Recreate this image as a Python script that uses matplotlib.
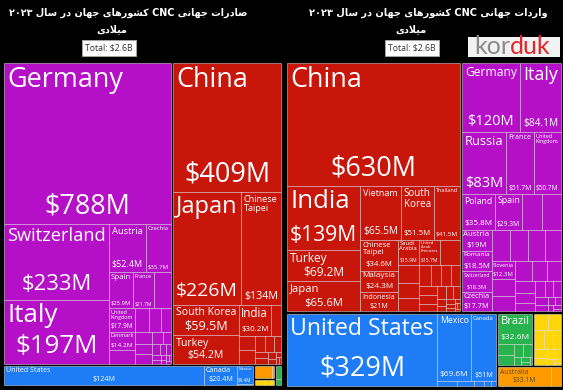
import matplotlib
matplotlib.use('Agg')
import matplotlib.pyplot as plt
from matplotlib.patches import Rectangle
from matplotlib.font_manager import FontProperties

# ---------------- data (values in $M) ----------------
# exports (left)
exp_europe_names = ['Germany', 'Switzerland', 'Italy', 'Austria', 'Czechia', 'Spain', 'France', '',
                    'United Kingdom', 'Denmark', '', '', '', '', '', '', '', '', '', '', '', '', '', '',
                    '', '', '', '', '']
exp_europe_values = [788, 233, 197, 52.4, 35.7, 25.9, 21.7, 18.5, 17.9, 14.2, 10.4, 9.5, 8.0, 7.0, 6.0,
                     5.0, 4.5, 4.0, 3.0, 2.5, 2.0, 1.5, 1.2, 1.0, 0.8, 0.6, 0.5, 0.4, 0.3]
exp_asia_names = ['China', 'Japan', 'Chinese Taipei', 'South Korea', 'Turkey', 'India', '', '', '', '',
                  '', '', '', '', '', '', '', '', '']
exp_asia_values = [409, 226, 134, 59.5, 54.2, 30.2, 8.8, 7.0, 6.5, 5.0, 4.0, 3.5, 2.5, 2.0, 1.5, 1.0,
                   0.8, 0.6, 0.4]
exp_namerica_names = ['United States', 'Canada', 'Mexico', '']
exp_namerica_values = [124, 20.4, 9.4, 0.4]
exp_oceania_names = ['', '']
exp_oceania_values = [7.5, 1.0]
exp_africa_names = ['', '', '']
exp_africa_values = [2.5, 1.2, 0.8]
exp_samerica_names = ['', '']
exp_samerica_values = [3.0, 1.3]

# imports (right)
imp_asia_names = ['China', 'India', 'Turkey', 'Japan', 'Vietnam', 'South Korea', 'Thailand',
                  'Chinese Taipei', 'Malaysia', 'Indonesia', 'Saudi Arabia', 'United Arab Emirates',
                  '', '', '', '', '', '', '', '', '', '', '', '', '', '', '', '', '', '', '', '', '', '', '']
imp_asia_values = [630, 139, 69.2, 65.6, 65.5, 51.5, 41.5, 34.6, 24.3, 21, 15.9, 15.7, 15.0, 11.1, 9.5,
                   8.5, 7.5, 6.5, 6.0, 5.5, 5.0, 4.5, 4.0, 3.5, 3.0, 2.5, 2.0, 1.5, 1.2, 1.0, 0.8, 0.6,
                   0.5, 0.4, 0.3]
imp_europe_names = ['Germany', 'Italy', 'Russia', 'France', 'United Kingdom', 'Poland', 'Spain', '', '',
                    'Austria', 'Romania', 'Switzerland', 'Czechia', '', '', '', '', 'Slovenia', '', '',
                    '', '', '', '', '', '', '', '', '', '', '', '', '', '', '', '']
imp_europe_values = [120, 84.1, 83, 51.7, 50.7, 35.8, 29.3, 21.5, 20, 19, 18.5, 18.3, 17.7, 17.5, 17,
                     16.5, 15, 12.3, 12, 11, 10, 9, 8, 7, 6, 5, 4.5, 4, 3.5, 3, 2.5, 2, 1.5, 1, 0.8, 0.6]
imp_namerica_names = ['United States', 'Mexico', 'Canada', '', '', '', '', '']
imp_namerica_values = [329, 69.6, 51, 3.0, 2.5, 1.5, 1.0, 0.8]
imp_samerica_names = ['Brazil', '', '', '', '', '', '', '', '']
imp_samerica_values = [32.6, 6, 5, 4, 3.5, 2, 1.5, 1, 0.5]
imp_africa_names = ['', '', '', '', '', '', '', '', '', '', '', '']
imp_africa_values = [8, 7, 6, 5.5, 5, 4, 3, 2.5, 2, 1.5, 1, 0.5]
imp_oceania_names = ['Australia', '']
imp_oceania_values = [33.1, 6]

colors = {'Europe': '#b510c8', 'Asia': '#c8160b', 'North America': '#1d7cf6',
          'South America': '#27b34d', 'Africa': '#ffd60a', 'Oceania': '#ff9a00'}

exports = {'Europe': (exp_europe_names, exp_europe_values),
           'Asia': (exp_asia_names, exp_asia_values),
           'North America': (exp_namerica_names, exp_namerica_values),
           'Oceania': (exp_oceania_names, exp_oceania_values),
           'Africa': (exp_africa_names, exp_africa_values),
           'South America': (exp_samerica_names, exp_samerica_values)}
imports = {'Asia': (imp_asia_names, imp_asia_values),
           'Europe': (imp_europe_names, imp_europe_values),
           'North America': (imp_namerica_names, imp_namerica_values),
           'South America': (imp_samerica_names, imp_samerica_values),
           'Africa': (imp_africa_names, imp_africa_values),
           'Oceania': (imp_oceania_names, imp_oceania_values)}

PHI = (1 + 5 ** 0.5) / 2


def squarify(values, x0, y0, x1, y1):
    # same idea as d3.treemapSquarify, values must be sorted descending
    rects = []
    total = float(sum(values))
    n = len(values)
    i0 = 0
    while i0 < n:
        dx, dy = x1 - x0, y1 - y0
        s = values[i0]
        i1 = i0 + 1
        vmin = vmax = s
        alpha = max(dy / dx, dx / dy) / (total * PHI)
        beta = s * s * alpha
        best = max(vmax / beta, beta / vmin)
        while i1 < n:
            v = values[i1]
            beta = (s + v) ** 2 * alpha
            r = max(max(vmax, v) / beta, beta / min(vmin, v))
            if r > best:
                break
            s += v
            vmin, vmax, best = min(vmin, v), max(vmax, v), r
            i1 += 1
        row = values[i0:i1]
        if dx < dy:
            yy = y0 + dy * s / total
            xx = x0
            for v in row:
                rects.append((xx, y0, xx + dx * v / s, yy))
                xx += dx * v / s
            y0 = yy
        else:
            xx = x0 + dx * s / total
            yy = y0
            for v in row:
                rects.append((x0, yy, xx, yy + dy * v / s))
                yy += dy * v / s
            x0 = xx
        total -= s
        i0 = i1
    return rects


# ---------------- arabic text helper (no shaping lib available) ----------------
FORMS = {
    'ا': ('\uFE8D', '\uFE8E', None, None), 'د': ('\uFEA9', '\uFEAA', None, None),
    'ر': ('\uFEAD', '\uFEAE', None, None), 'و': ('\uFEED', '\uFEEE', None, None),
    'ص': ('\uFEB9', '\uFEBA', '\uFEBB', '\uFEBC'), 'ت': ('\uFE95', '\uFE96', '\uFE97', '\uFE98'),
    'ج': ('\uFE9D', '\uFE9E', '\uFE9F', '\uFEA0'), 'ه': ('\uFEE9', '\uFEEA', '\uFEEB', '\uFEEC'),
    'ن': ('\uFEE5', '\uFEE6', '\uFEE7', '\uFEE8'), 'ی': ('\uFBFC', '\uFBFD', '\uFBFE', '\uFBFF'),
    'ک': ('\uFB8E', '\uFB8F', '\uFB90', '\uFB91'), 'ش': ('\uFEB5', '\uFEB6', '\uFEB7', '\uFEB8'),
    'س': ('\uFEB1', '\uFEB2', '\uFEB3', '\uFEB4'), 'ل': ('\uFEDD', '\uFEDE', '\uFEDF', '\uFEE0'),
    'م': ('\uFEE1', '\uFEE2', '\uFEE3', '\uFEE4'),
}


def shape_word(word):
    if not any(c in FORMS for c in word):
        return word
    out = []
    i = 0
    while i < len(word):
        c = word[i]
        prev_joins = i > 0 and FORMS.get(word[i - 1], (0, 0, None))[2] is not None and out
        if c == 'ل' and i + 1 < len(word) and word[i + 1] == 'ا':
            out.append('\uFEFC' if prev_joins else '\uFEFB')
            i += 2
            continue
        f = FORMS[c]
        next_joins = i + 1 < len(word) and f[2] is not None
        if prev_joins and next_joins:
            out.append(f[3])
        elif prev_joins:
            out.append(f[1])
        elif next_joins:
            out.append(f[2])
        else:
            out.append(f[0])
        i += 1
    return ''.join(reversed(out))


def rtl(text):
    return ' '.join(shape_word(w) for w in reversed(text.split(' ')))


# ---------------- drawing ----------------
fig = plt.figure(figsize=(5.63, 3.90), dpi=100, facecolor='black')
ax = fig.add_axes([0, 0, 1, 1])
ax.set_facecolor('black')
ax.set_xlim(0, 563)
ax.set_ylim(390, 0)
ax.axis('off')
renderer = fig.canvas.get_renderer()
label_font = 'Open Sans'


def width100(s, family=label_font, weight='normal'):
    prop = FontProperties(family=family, size=72, weight=weight)  # 100 px
    return renderer.get_text_width_height_descent(s, prop, ismath=False)[0]


def light(c):
    r, g, b = matplotlib.colors.to_rgb(c)
    return 0.299 * r + 0.587 * g + 0.114 * b > 0.6


def label_cell(x0, y0, x1, y1, name, value, color):
    if not name:
        return
    w, h = x1 - x0, y1 - y0
    pad = min(3.0, 0.08 * w, 0.08 * h)
    val = '$%sM' % format(value, 'g')
    options = [[name]]
    if ' ' in name:
        options.append(name.split(' '))
    best = None
    for lines in options:
        fs = (w - 2 * pad) * 100 / max(width100(l) for l in lines)
        fs = min(fs, 27, (h - 2 * pad) / (1.12 * len(lines) + 1.12))
        if best is None or fs > best[0]:
            best = (fs, lines)
    fs, lines = best
    if fs < 3.5:
        return
    fv = min(27, (w - 2 * pad) * 100 / width100(val), 1.2 * fs,
             (h - 2 * pad - 1.12 * len(lines) * fs) / 1.12)
    tc = '#5a4a2a' if light(color) else 'white'
    ax.text(x0 + pad, y0 + pad, '\n'.join(lines), ha='left', va='top', color=tc,
            fontsize=fs * 0.72, family=label_font, linespacing=1.0)
    if fv >= 3:
        ax.text((x0 + x1) / 2, y1 - pad - 0.28 * fv, val, ha='center', va='baseline', color=tc,
                fontsize=fv * 0.72, family=label_font)


def draw_treemap(groups, x0, y0, x1, y1):
    order = sorted(groups, key=lambda k: -sum(groups[k][1]))
    totals = [sum(groups[k][1]) for k in order]
    for key, (gx0, gy0, gx1, gy1) in zip(order, squarify(totals, x0, y0, x1, y1)):
        gx0, gy0, gx1, gy1 = gx0 + 1.1, gy0 + 1.1, gx1 - 1.1, gy1 - 1.1
        names, vals = groups[key]
        pairs = sorted(zip(names, vals), key=lambda p: -p[1])
        cells = squarify([p[1] for p in pairs], gx0, gy0, gx1, gy1)
        for (nm, v), (cx0, cy0, cx1, cy1) in zip(pairs, cells):
            ax.add_patch(Rectangle((cx0, cy0), cx1 - cx0, cy1 - cy0, facecolor=colors[key],
                                   edgecolor=(1, 1, 1, 0.55), linewidth=0.55))
            label_cell(cx0, cy0, cx1, cy1, nm, v, colors[key])
    return sum(totals)


exp_total = draw_treemap(exports, 3, 62, 282, 386)
imp_total = draw_treemap(imports, 286, 62, 562, 387)

# titles: first line sized to the width it takes in the picture (~238 px)
title_font = ['DejaVu Sans']
titles = [(128, 112, 'صادرات جهانی CNC کشورهای جهان در سال ۲۰۲۳'),
          (428, 411, 'واردات جهانی CNC کشورهای جهان در سال ۲۰۲۳')]
for cx1, cx2, t in titles:
    line1 = rtl(t)
    tsize = 238 / width100(line1, title_font, 'bold') * 100 * 0.72
    ax.text(cx1, 13, line1, ha='center', va='center', color='white', fontsize=tsize,
            fontweight='bold', family=title_font)
    ax.text(cx2, 29, rtl('میلادی'), ha='center', va='center', color='white', fontsize=tsize,
            fontweight='bold', family=title_font)

# totals
for cx, tot in [(109, exp_total), (412, imp_total)]:
    ax.text(cx, 48, 'Total: $%.1fB' % (tot / 1000), ha='center', va='center', color='#333333',
            fontsize=6.3, family=label_font,
            bbox=dict(boxstyle='square,pad=0.35', fc='white', ec='#aaaaaa', lw=0.6))

# logo
ax.add_patch(Rectangle((468, 37), 92, 20, facecolor='#f2f2f2', edgecolor='none'))
ax.text(510, 54, 'kor', ha='right', va='baseline', color='#8a8a8a', fontsize=18, family='Lato')
ax.text(510, 54, 'duk', ha='left', va='baseline', color='#e3262b', fontsize=18, family='Lato')

fig.savefig('out.png', dpi=100, facecolor='black')
